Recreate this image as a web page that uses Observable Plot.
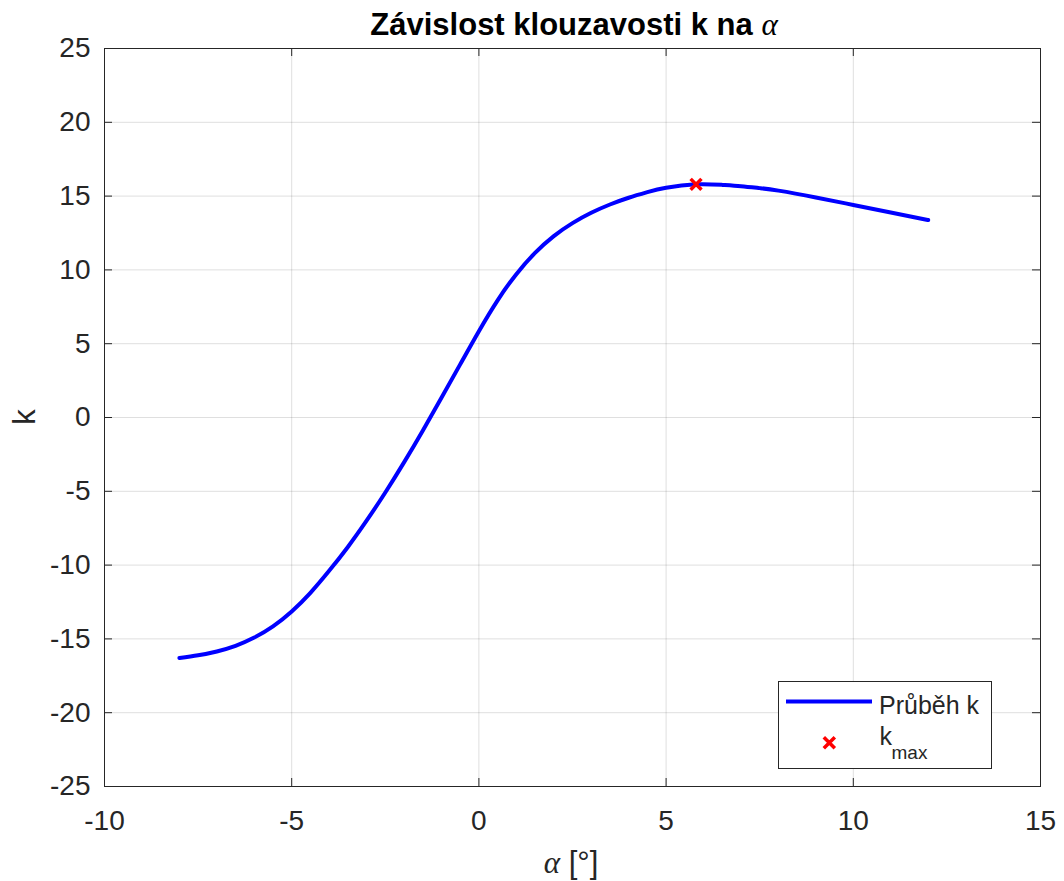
<!DOCTYPE html>
<html>
<head>
<meta charset="utf-8">
<script src="https://cdn.jsdelivr.net/npm/d3@7"></script>
<script src="https://cdn.jsdelivr.net/npm/@observablehq/plot@0.6"></script>
<style>
  html, body { margin: 0; padding: 0; background: #fff; }
  #wrap { position: relative; width: 1064px; height: 881px; }
  #overlay { position: absolute; left: 0; top: 0; pointer-events: none; }
  .sans { font-family: "Liberation Sans", Arial, sans-serif; }
  .greek { font-family: "Liberation Serif", "DejaVu Serif", serif; font-style: italic; font-weight: normal; }
</style>
</head>
<body>
<div id="wrap">
  <div id="chart"></div>
  <svg id="overlay" width="1064" height="881">
    <text class="sans" x="574" y="35" text-anchor="middle" font-size="31" font-weight="bold" fill="#000">Závislost klouzavosti k na <tspan class="greek">α</tspan></text>
    <text class="sans" x="571" y="873" text-anchor="middle" font-size="31" fill="#262626"><tspan class="greek">α</tspan> [°]</text>
    <text class="sans" transform="translate(35,417) rotate(-90)" text-anchor="middle" font-size="31" fill="#262626">k</text>
    <g id="legend">
      <rect x="778.5" y="681.5" width="213" height="87" fill="#fff" stroke="#262626" stroke-width="1"/>
      <line x1="786" x2="872" y1="701.5" y2="701.5" stroke="#0000ff" stroke-width="4"/>
      <path d="M823.8,737.2 L834.8,748.2 M834.8,737.2 L823.8,748.2" stroke="#ff0000" stroke-width="3.5"/>
      <text class="sans" x="879" y="714" font-size="25" fill="#262626">Průběh k</text>
      <text class="sans" x="879.5" y="745" font-size="25" fill="#262626">k</text>
      <text class="sans" x="891.5" y="759" font-size="19" fill="#262626">max</text>
    </g>
  </svg>
</div>
<script>
const alpha = [-8, -7.5, -7, -6.5, -6, -5.5, -5, -4.5, -4, -3.5, -3, -2.5, -2, -1.5, -1, -0.5, 0, 0.5, 1, 1.5, 2, 2.5, 3, 3.5, 4, 4.5, 5, 5.8, 6.5, 7, 7.5, 8, 9, 10, 11, 12];
const kValues = [-16.3, -16.11, -15.85, -15.47, -14.91, -14.15, -13.14, -11.88, -10.39, -8.77, -6.99, -5.08, -3.04, -0.89, 1.34, 3.6, 5.85, 7.94, 9.71, 11.15, 12.29, 13.17, 13.87, 14.43, 14.89, 15.27, 15.57, 15.8, 15.76, 15.67, 15.54, 15.37, 14.91, 14.4, 13.89, 13.38];
const kmaxAlpha = [5.8];
const kmaxValue = [15.8];
const xTicks = [-10, -5, 0, 5, 10, 15];
const yTicks = [-25, -20, -15, -10, -5, 0, 5, 10, 15, 20, 25];

const curve = alpha.map((a, i) => ({a, k: kValues[i]}));
const peak = kmaxAlpha.map((a, i) => ({a, k: kmaxValue[i]}));

const W = 1064, H = 881, mL = 104, mR = 24, mT = 48, mB = 95;
const pw = W - mL - mR, ph = H - mT - mB;
const tick = 8;
const ink = "#262626";

const chart = Plot.plot({
  width: W, height: H,
  marginLeft: mL, marginRight: mR, marginTop: mT, marginBottom: mB,
  style: {fontFamily: "'Liberation Sans', Arial, sans-serif", color: ink, background: "#fff"},
  x: {domain: [-10, 15]},
  y: {domain: [-25, 25]},
  marks: [
    Plot.ruleX(xTicks, {stroke: ink, strokeOpacity: 0.15}),
    Plot.ruleY(yTicks, {stroke: ink, strokeOpacity: 0.15}),
    Plot.ruleX(xTicks, {stroke: ink, insetTop: ph - tick}),
    Plot.ruleX(xTicks, {stroke: ink, insetBottom: ph - tick}),
    Plot.ruleY(yTicks, {stroke: ink, insetRight: pw - tick}),
    Plot.ruleY(yTicks, {stroke: ink, insetLeft: pw - tick}),
    Plot.frame({stroke: ink}),
    Plot.axisX(xTicks, {tickSize: 0, tickPadding: 24, fontSize: 28, fill: ink, label: null, tickFormat: d => String(d)}),
    Plot.axisY(yTicks, {tickSize: 0, tickPadding: 14, fontSize: 28, fill: ink, label: null, tickFormat: d => String(d)}),
    Plot.line(curve, {x: "a", y: "k", stroke: "#0000ff", strokeWidth: 4, curve: "natural"}),
    Plot.dot(peak, {x: "a", y: "k", symbol: "times", r: 5, stroke: "#ff0000", strokeWidth: 3.5})
  ]
});
document.getElementById("chart").appendChild(chart);
</script>
</body>
</html>
